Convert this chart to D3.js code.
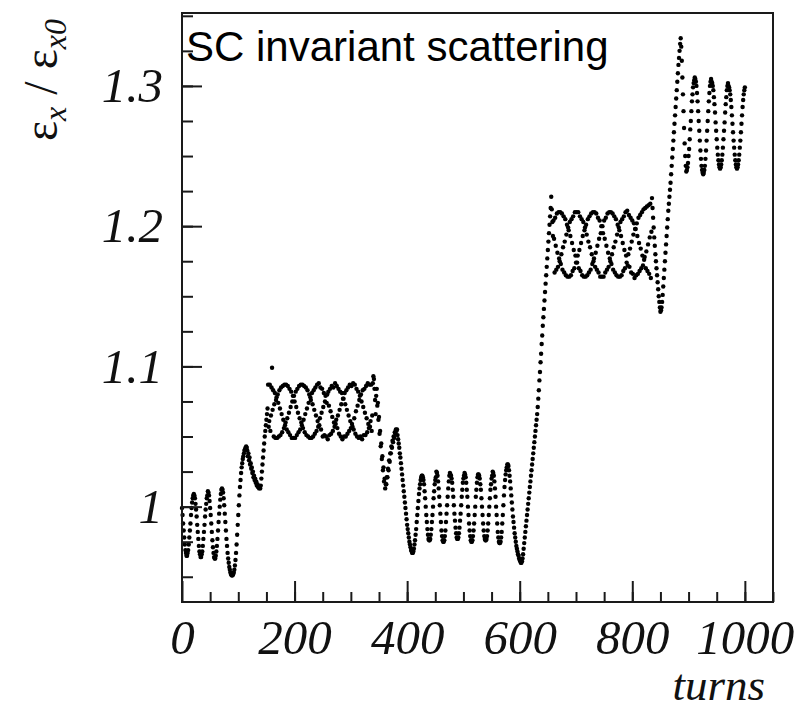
<!DOCTYPE html>
<html>
<head>
<meta charset="utf-8">
<script src="https://cdn.jsdelivr.net/npm/d3@7"></script>
<style>
  html, body { margin: 0; padding: 0; background: #fff; }
  svg { display: block; }
</style>
</head>
<body>
<div id="chart"></div>
<script>
// emittance ratio eps_x / eps_x0 (x1000), one sample per turn, split in segments
const riseA = [
  999, 994, 988, 983, 978, 973, 969, 967, 965, 965, 967, 969, 973, 978, 983, 988, 994, 999, 1003, 1006, 1008,
  1009, 1008, 1006, 1002, 998, 993, 987, 982, 977, 972, 968, 966, 964, 964, 966, 968, 972, 977, 982, 987, 993, 998, 1002, 1006, 1008,
  1011, 1010, 1008, 1004, 999, 994, 988, 982, 976, 971, 967, 964, 963, 963, 965, 968, 972, 977, 983, 989, 995, 1000, 1005, 1009, 1012,
  1013, 1012, 1010, 1006, 1001, 995, 989, 983, 977, 972, 967, 963, 960, 957, 955, 953, 952, 951, 951, 951, 952, 953, 955, 958,
  962, 967, 973, 980, 987, 994, 1001, 1008, 1014, 1019, 1024, 1028, 1031, 1034, 1036, 1038, 1040, 1041, 1042, 1043, 1042,
  1040, 1036, 1038, 1033, 1035, 1030, 1031, 1027, 1028, 1024, 1025, 1021, 1022, 1019, 1020, 1017, 1018, 1015, 1016, 1014, 1015, 1013, 1014, 1013, 1015,
  1020, 1025, 1030, 1035, 1040, 1045, 1050, 1054, 1058, 1062, 1066, 1070
];
const plateauB = [
  1087, 1057, 1061, 1087, 1054, 1065, 1085, 1099, 1069, 1083, 1050, 1073, 1081, 1049, 1076, 1078, 1049, 1080, 1074, 1050, 1083, 1070, 1051, 1085, 1066, 1053, 1086, 1062, 1056, 1087,
  1058, 1060, 1087, 1055, 1063, 1086, 1053, 1067, 1084, 1051, 1071, 1082, 1049, 1075, 1079, 1049, 1079, 1075, 1049, 1082, 1071, 1051, 1084, 1067, 1053, 1086, 1063, 1055, 1087, 1060,
  1058, 1087, 1056, 1062, 1086, 1053, 1066, 1085, 1051, 1070, 1083, 1050, 1074, 1080, 1049, 1078, 1076, 1049, 1081, 1073, 1050, 1083, 1069, 1052, 1085, 1065, 1054, 1087, 1061, 1057,
  1088, 1058, 1063, 1085, 1055, 1067, 1084, 1050, 1071, 1081, 1051, 1075, 1079, 1050, 1074, 1080, 1048, 1082, 1072, 1051, 1084, 1068, 1052, 1086, 1064, 1054, 1085, 1060, 1057, 1088,
  1059, 1062, 1086, 1056, 1065, 1084, 1052, 1069, 1082, 1050, 1073, 1081, 1048, 1077, 1077, 1050, 1081, 1073, 1050, 1083, 1069, 1052, 1085, 1065, 1054, 1087, 1061, 1056, 1086, 1059,
  1057, 1088, 1055, 1063, 1087, 1052, 1068, 1084, 1050, 1072, 1082, 1049, 1076, 1079, 1050, 1080, 1075, 1048, 1083, 1071, 1051, 1084, 1067, 1051, 1086, 1063, 1053, 1088, 1059, 1056,
  1087, 1057, 1061, 1087, 1054, 1065, 1088, 1093, 1091, 1084, 1076, 1066, 1079
];
const dropB = [
  1084, 1072, 1074, 1062, 1064, 1052, 1054, 1043, 1045, 1034, 1036, 1026, 1028, 1018, 1020,
  1013, 1016, 1016, 1021, 1021, 1027, 1026, 1033, 1032, 1038, 1038, 1043, 1042, 1047, 1046, 1050, 1049, 1053, 1052, 1055, 1054, 1055,
  1051, 1048, 1045, 1042, 1038, 1035, 1031, 1027, 1023, 1019, 1015, 1011, 1007, 1003, 999, 995, 991, 987, 984, 981, 978, 975, 973, 971, 969, 968, 967,
  967, 968, 970, 973, 976, 980, 984, 989, 994, 999, 1004
];
const plateauC = [
  1009, 1013, 1016, 1019, 1021, 1022,
  1022, 1021, 1019, 1016, 1011, 1006, 1000, 994, 989, 984, 980, 977, 976, 976, 977, 980, 984, 989, 994, 1000, 1006, 1011, 1016, 1019, 1021,
  1025, 1024, 1022, 1018, 1013, 1007, 1001, 995, 989, 983, 979, 976, 975, 975, 976, 979, 983, 989, 995, 1001, 1007, 1013, 1018, 1022, 1024,
  1023, 1022, 1020, 1017, 1012, 1007, 1001, 995, 990, 985, 981, 978, 977, 977, 978, 981, 985, 990, 995, 1001, 1007, 1012, 1017, 1020, 1022,
  1024, 1023, 1021, 1017, 1012, 1007, 1000, 994, 988, 983, 979, 976, 975, 975, 976, 979, 983, 988, 994, 1000, 1007, 1012, 1017, 1021, 1023,
  1023, 1022, 1020, 1016, 1012, 1006, 1000, 994, 988, 983, 979, 977, 976, 976, 977, 979, 983, 988, 994, 1000, 1006, 1012, 1016, 1020, 1022,
  1025, 1024, 1022, 1018, 1013, 1007, 1000, 994, 988, 982, 978, 975, 974, 974, 975, 978, 982, 988, 994, 1001, 1008, 1014, 1019, 1023, 1026,
  1028, 1030, 1030, 1029, 1026, 1022, 1018, 1013, 1008, 1003, 998, 993, 989, 985, 981, 978, 975, 972, 970, 968, 966, 965, 963, 962, 961
];
const rampC = [
  960, 960, 961, 963, 966, 970,
  974, 978, 982, 986, 990, 994, 998, 1002, 1006, 1010, 1014, 1018, 1022, 1026, 1030, 1034, 1038, 1042, 1046, 1050, 1054, 1058, 1062, 1066, 1071,
  1077, 1083, 1090, 1096, 1103, 1109, 1116, 1122, 1129, 1135, 1141, 1147, 1153, 1159, 1165, 1171, 1177, 1183, 1189, 1195, 1201, 1207, 1213
];
const plateauD = [
  1221, 1212, 1203, 1193, 1204, 1191, 1167, 1206, 1186, 1169, 1209, 1181, 1171, 1210, 1177, 1175, 1210, 1173, 1180, 1209, 1169, 1185,
  1207, 1167, 1189, 1205, 1165, 1194, 1201, 1164, 1199, 1197, 1164, 1203, 1193, 1165, 1205, 1188, 1168, 1207, 1183, 1170, 1210, 1179, 1174,
  1210, 1174, 1179, 1210, 1170, 1183, 1207, 1168, 1188, 1205, 1165, 1193, 1203, 1164, 1197, 1199, 1164, 1201, 1194, 1165, 1205, 1189,
  1167, 1207, 1185, 1169, 1209, 1180, 1173, 1210, 1175, 1177, 1210, 1171, 1181, 1209, 1169, 1186, 1206, 1167, 1191, 1204, 1164, 1195,
  1200, 1164, 1200, 1195, 1164, 1204, 1191, 1167, 1206, 1186, 1169, 1209, 1181, 1171, 1210, 1177, 1175, 1210, 1173, 1180, 1209, 1169,
  1185, 1207, 1167, 1189, 1205, 1165, 1194, 1201, 1164, 1199, 1197, 1164, 1203, 1193, 1165, 1205, 1188, 1168, 1207, 1183, 1170, 1210, 1179, 1174,
  1211, 1172, 1180, 1208, 1171, 1184, 1206, 1167, 1189, 1204, 1166, 1194, 1202, 1163, 1198, 1198, 1165, 1202, 1193, 1166, 1206, 1188,
  1168, 1208, 1184, 1170, 1210, 1179, 1172, 1212, 1176, 1178, 1213, 1170, 1182, 1214, 1168, 1187, 1215, 1166, 1192, 1216, 1163, 1196
];
const jumpD = [
  1220, 1213, 1206, 1199, 1192, 1186, 1180, 1175, 1170, 1165, 1160, 1155, 1150, 1146, 1142, 1139,
  1140, 1142, 1146, 1151, 1157, 1163, 1169, 1175, 1181, 1187, 1193, 1199, 1205, 1211, 1216, 1221, 1226, 1231,
  1237, 1243, 1249, 1255, 1261, 1267, 1273, 1279, 1285, 1291, 1297, 1303, 1309, 1315, 1320, 1325, 1330, 1334
];
const plateauE = [
  1328, 1318, 1306, 1294, 1282, 1270, 1259, 1250, 1243,
  1239, 1240, 1242, 1245, 1250, 1255, 1262, 1269, 1275, 1282, 1289, 1294, 1299, 1302, 1304,
  1306, 1305, 1303, 1300, 1295, 1289, 1282, 1275, 1268, 1261, 1254, 1248, 1243, 1240, 1238, 1237, 1238, 1240, 1243, 1248, 1254, 1261, 1268, 1275, 1282, 1289, 1295, 1300, 1303, 1305,
  1303, 1302, 1300, 1297, 1292, 1287, 1281, 1274, 1268, 1262, 1256, 1251, 1247, 1244, 1242, 1241, 1242, 1244, 1247, 1251, 1256, 1262, 1268, 1274, 1281, 1287, 1292, 1297, 1300, 1302,
  1300, 1299, 1297, 1294, 1290, 1285, 1279, 1273, 1267, 1261, 1256, 1251, 1247, 1244, 1242, 1241, 1242, 1244, 1247, 1251, 1256, 1261, 1267, 1273, 1279, 1285, 1290, 1294, 1297, 1299
];
const segmentStart = [0, 153, 346, 421, 602, 656, 835, 887];
const segments = [riseA, plateauB, dropB, plateauC, rampC, plateauD, jumpD, plateauE];

const yTicks = [1, 1.1, 1.2, 1.3];
const yTickLabels = ['1', '1.1', '1.2', '1.3'];
const xTicks = [0, 200, 400, 600, 800, 1000];
const xTickLabels = ['0', '200', '400', '600', '800', '1000'];

const points = [];
segments.forEach((seg, s) => {
  seg.forEach((v, i) => points.push({ turn: segmentStart[s] + i, ratio: v / 1000 }));
});

const width = 798;
const height = 712;
const plot = { left: 182, right: 773, top: 13, bottom: 602 };
const ink = '#1a1a1a';
const serif = "'Liberation Serif', 'Times New Roman', serif";

const x = d3.scaleLinear().domain([0, 1050]).range([plot.left, plot.right]);
const y = d3.scaleLinear().domain([0.932, 1.352]).range([plot.bottom, plot.top]);

const svg = d3.select('#chart').append('svg')
  .attr('width', width)
  .attr('height', height)
  .style('background', '#fff');

svg.append('g')
  .selectAll('circle')
  .data(points)
  .enter()
  .append('circle')
  .attr('cx', d => x(d.turn))
  .attr('cy', d => y(d.ratio))
  .attr('r', 2.2)
  .attr('fill', '#000');

// minor ticks (inside)
const yMinor = svg.append('g')
  .attr('transform', `translate(${plot.left},0)`)
  .call(d3.axisLeft(y).tickValues(d3.range(0.95, 1.351, 0.025)).tickSize(-11).tickFormat(''));
const xMinor = svg.append('g')
  .attr('transform', `translate(0,${plot.bottom})`)
  .call(d3.axisBottom(x).tickValues(d3.range(50, 1051, 50)).tickSize(-10).tickFormat(''));

// major ticks + labels
const yAxis = svg.append('g')
  .attr('transform', `translate(${plot.left},0)`)
  .call(d3.axisLeft(y).tickValues(yTicks).tickSize(-20).tickPadding(19)
    .tickFormat((d, i) => yTickLabels[i]));
const xAxis = svg.append('g')
  .attr('transform', `translate(0,${plot.bottom})`)
  .call(d3.axisBottom(x).tickValues(xTicks).tickSize(-21).tickPadding(17)
    .tickFormat((d, i) => xTickLabels[i]));

[yMinor, xMinor, yAxis, xAxis].forEach(g => {
  g.select('.domain').remove();
  g.selectAll('line').attr('stroke', ink).attr('stroke-width', 2);
  g.selectAll('text')
    .style('font-family', serif)
    .style('font-style', 'italic')
    .style('font-size', '49px')
    .attr('fill', '#111');
});

svg.append('rect')
  .attr('x', plot.left)
  .attr('y', plot.top)
  .attr('width', plot.right - plot.left)
  .attr('height', plot.bottom - plot.top)
  .attr('fill', 'none')
  .attr('stroke', ink)
  .attr('stroke-width', 2);

svg.append('text')
  .attr('x', 186)
  .attr('y', 61)
  .style('font-family', "'Liberation Sans', Arial, sans-serif")
  .style('font-size', '42px')
  .attr('fill', '#000')
  .text('SC invariant scattering');

// y title: eps_x / eps_x0
const yTitle = svg.append('text')
  .attr('transform', 'translate(57,80) rotate(-90)')
  .attr('text-anchor', 'middle')
  .style('font-family', serif)
  .style('font-size', '48px')
  .attr('fill', '#111');
yTitle.append('tspan').text('ε');
yTitle.append('tspan').attr('dy', 9).style('font-style', 'italic').style('font-size', '32px').text('x');
yTitle.append('tspan').attr('dy', -9).text(' / ');
yTitle.append('tspan').text('ε');
yTitle.append('tspan').attr('dy', 9).style('font-style', 'italic').style('font-size', '32px').text('x0');

svg.append('text')
  .attr('x', 765)
  .attr('y', 700)
  .attr('text-anchor', 'end')
  .style('font-family', serif)
  .style('font-style', 'italic')
  .style('font-size', '45px')
  .attr('fill', '#111')
  .text('turns');
</script>
</body>
</html>
